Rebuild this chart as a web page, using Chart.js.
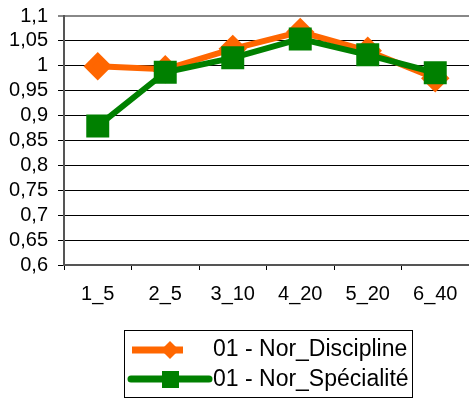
<!DOCTYPE html>
<html>
<head>
<meta charset="utf-8">
<script src="https://cdn.jsdelivr.net/npm/chart.js@4"></script>
<style>
    html, body { margin: 0; padding: 0; background: #fff; }
    #wrap { width: 469px; height: 400px; position: relative; }
</style>
</head>
<body>
<div id="wrap"><canvas id="myChart"></canvas></div>
<script>
const categories = ['1_5', '2_5', '3_10', '4_20', '5_20', '6_40'];
const disciplineValues = [0.999, 0.993, 1.034, 1.068, 1.030, 0.975];
const specialiteValues = [0.879, 0.987, 1.016, 1.054, 1.022, 0.986];
const seriesNames = ['01 - Nor_Discipline', '01 - Nor_Spécialité'];
const yMin = 0.6, yMax = 1.1, yStep = 0.05;

const ORANGE = '#ff6600';
const GREEN = '#008000';
const FONT = '"Liberation Sans", Arial, sans-serif';

// legend drawn by hand: line sample with marker, then the label
const boxLegend = {
    id: 'boxLegend',
    afterDraw(chart) {
        const ctx = chart.ctx;
        ctx.save();
        ctx.strokeStyle = '#000';
        ctx.lineWidth = 1;
        ctx.strokeRect(124.5, 330.5, 288, 67);

        // orange row
        ctx.strokeStyle = ORANGE;
        ctx.fillStyle = ORANGE;
        ctx.lineWidth = 7;
        ctx.lineCap = 'butt';
        ctx.beginPath();
        ctx.moveTo(132, 350);
        ctx.lineTo(183, 350);
        ctx.stroke();
        ctx.beginPath();
        ctx.moveTo(170, 341);
        ctx.lineTo(179, 350);
        ctx.lineTo(170, 359);
        ctx.lineTo(161, 350);
        ctx.closePath();
        ctx.fill();

        // green row
        ctx.strokeStyle = GREEN;
        ctx.fillStyle = GREEN;
        ctx.lineCap = 'round';
        ctx.beginPath();
        ctx.moveTo(131, 379);
        ctx.lineTo(209, 379);
        ctx.stroke();
        ctx.fillRect(162, 371, 17, 17);

        ctx.fillStyle = '#000';
        ctx.font = '23px ' + FONT;
        ctx.textBaseline = 'middle';
        ctx.textAlign = 'left';
        ctx.fillText(seriesNames[0], 213, 350);
        ctx.fillText(seriesNames[1], 213, 380);
        ctx.restore();
    }
};

function isTop(v) {
    return Math.abs(v - yMax) < 1e-6;
}

const ctx = document.getElementById('myChart').getContext('2d');
const myChart = new Chart(ctx, {
    type: 'line',
    data: {
        labels: categories,
        datasets: [{
            label: seriesNames[0],
            data: disciplineValues,
            borderColor: ORANGE,
            backgroundColor: ORANGE,
            borderWidth: 6,
            pointStyle: 'rectRot',
            pointRadius: 10,
            pointBackgroundColor: ORANGE,
            pointBorderColor: ORANGE,
            tension: 0,
            order: 1
        }, {
            label: seriesNames[1],
            data: specialiteValues,
            borderColor: GREEN,
            backgroundColor: GREEN,
            borderWidth: 6,
            pointStyle: 'rect',
            pointRadius: 12,
            pointBackgroundColor: GREEN,
            pointBorderColor: GREEN,
            tension: 0,
            order: 0
        }]
    },
    options: {
        responsive: true,
        maintainAspectRatio: false,
        animation: false,
        layout: {
            autoPadding: false,
            padding: { top: 16, right: 0, bottom: 82, left: 0 }
        },
        plugins: {
            legend: { display: false },
            tooltip: { enabled: false }
        },
        scales: {
            x: {
                offset: true,
                afterFit(scale) {
                    scale.paddingLeft = 0;
                    scale.paddingRight = 0;
                },
                grid: {
                    offset: true,
                    drawOnChartArea: false,
                    drawTicks: true,
                    tickLength: 5,
                    color: '#000'
                },
                border: { color: '#555', width: 2 },
                ticks: {
                    color: '#000',
                    padding: 12,
                    font: { family: FONT, size: 20 }
                }
            },
            y: {
                min: yMin,
                max: yMax,
                afterFit(scale) {
                    scale.width = 64;
                    scale.paddingTop = 0;
                    scale.paddingBottom = 0;
                },
                grid: {
                    tickLength: 6,
                    color: c => isTop(c.tick.value) ? '#888' : '#000',
                    lineWidth: c => isTop(c.tick.value) ? 2 : 1
                },
                border: { color: '#555', width: 2 },
                ticks: {
                    stepSize: yStep,
                    autoSkip: false,
                    color: '#000',
                    padding: 10,
                    font: { family: FONT, size: 20 },
                    callback: v => String(Math.round(v * 100) / 100).replace('.', ',')
                }
            }
        }
    },
    plugins: [boxLegend]
});
</script>
</body>
</html>
